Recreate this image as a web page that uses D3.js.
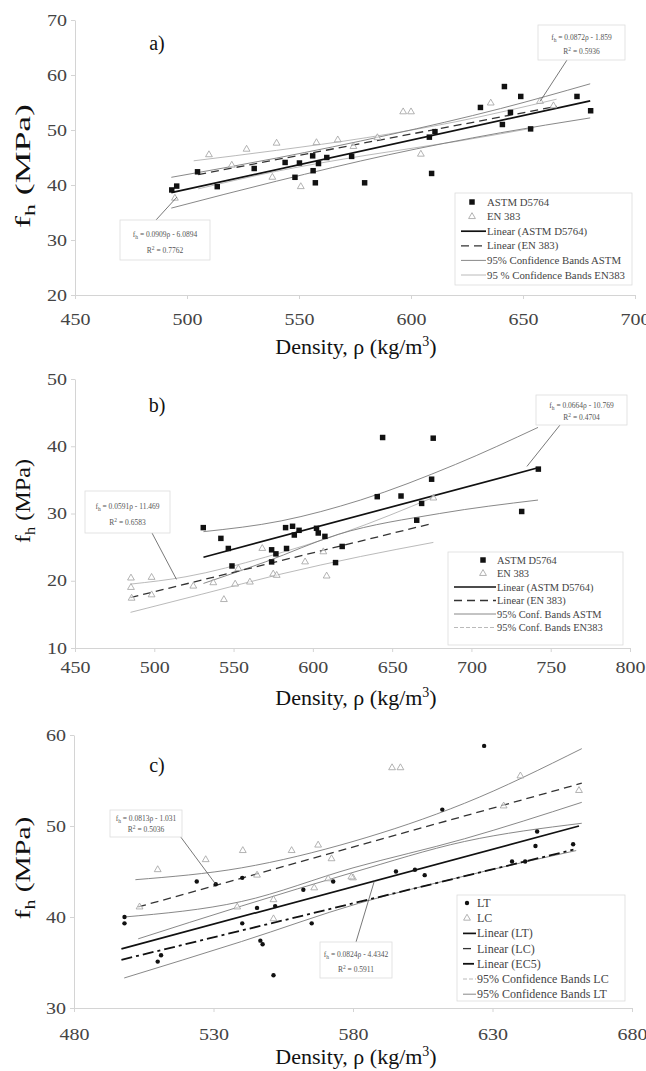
<!DOCTYPE html>
<html>
<head>
<meta charset="utf-8">
<script src="https://cdn.jsdelivr.net/npm/d3@7"></script>
<style>
  body { margin: 0; background: #fff; }
  svg text { font-family: "Liberation Serif", "Times New Roman", "DejaVu Serif", serif !important; }
</style>
</head>
<body>
<div id="vis"></div>
<script>
// ---------- panel a) data ----------
const aXTicks = [450, 500, 550, 600, 650, 700];
const aYTicks = [20, 30, 40, 50, 60, 70];
const aAstm = [[493.2,39.1],[495.4,39.8],[504.7,42.4],[513.5,39.7],[530,43.0],[543.8,44.1],[550.2,44.0],[556.1,45.3],[558.7,43.9],[562.4,45.0],[556.3,42.6],[548.2,41.4],[557.3,40.4],[579.3,40.4],[573.5,45.2],[641.7,57.9],[649,56.1],[631,54.1],[644.4,53.2],[640.8,51.0],[653.4,50.2],[674.1,56.1],[680.2,53.5],[610.7,49.7],[608.2,48.7],[609.2,42.1]];
const aEn = [[494.6,37.6],[509.8,45.5],[526.6,46.5],[540,47.6],[557.8,47.7],[567.3,48.2],[538.1,41.4],[550.8,39.7],[574.3,47.0],[596.5,53.3],[600,53.3],[604.4,45.6],[635.6,54.9],[657.6,55.2],[663.6,54.4],[520,43.6],[585,48.6]];
const aFitAstm = [[493,38.6],[680,55.3]];
const aFitEn = [[505,41.9],[665,54.3]];
const aBandAstmUp = [[493,41.4],[540,44.9],[590,49.1],[640,53.9],[680,58.4]];
const aBandAstmLo = [[493,35.8],[540,40.7],[590,45.5],[640,49.5],[680,52.2]];
const aBandEnUp = [[503,44.4],[540,46.3],[580,48.6],[620,51.5],[665,55.6]];
const aBandEnLo = [[505,39.3],[540,42.5],[580,45.4],[620,47.9],[655,50.4]];
const aLegend = ["ASTM D5764", "EN 383", "Linear (ASTM D5764)", "Linear (EN 383)", "95% Confidence Bands ASTM", "95 % Confidence Bands EN383"];
const aNoteTop = ["0.0872ρ - 1.859", "0.5936"];
const aNoteLow = ["0.0909ρ - 6.0894", "0.7762"];

// ---------- panel b) data ----------
const bXTicks = [450, 500, 550, 600, 650, 700, 750, 800];
const bYTicks = [10, 20, 30, 40, 50];
const bAstm = [[530.9,27.9],[542,26.3],[546.7,24.8],[549,22.2],[574,24.6],[576.7,24.0],[574,22.8],[583.4,24.8],[582.8,27.9],[587.2,28.1],[591.3,27.5],[588.3,26.8],[602.3,27.8],[603.4,27.1],[607.6,26.6],[618.5,25.1],[614.3,22.7],[644,41.3],[675.9,41.2],[742.2,36.6],[674.9,35.1],[640.6,32.5],[655.6,32.6],[668.6,31.5],[665.5,29.0],[731.7,30.3]];
const bEn = [[485.3,20.4],[498.3,20.5],[485.3,19.0],[485.7,17.4],[498.3,17.9],[524.6,19.2],[537.2,19.7],[543.9,17.2],[551,19.5],[560.3,19.8],[568.1,24.8],[575,21.0],[577.2,20.8],[595.1,22.8],[608.7,20.7],[606.6,24.3],[553,21.8],[676,32.3]];
const bFitAstm = [[531,23.5],[742,36.8]];
const bFitEn = [[485,17.5],[675,28.5]];
const bBandAstmUp = [[531,27.3],[580,28.9],[630,32.0],[690,37.3],[742,42.8]];
const bBandAstmLo = [[531,19.6],[570,22.8],[616,26.9],[680,30.0],[742,32.0]];
const bBandEnUp = [[485,19.5],[520,20.6],[570,23.5],[620,27.2],[676,32.4]];
const bBandEnLo = [[485,15.3],[530,18.0],[580,21.0],[630,23.6],[676,25.7]];
const bLegend = ["ASTM D5764", "EN 383", "Linear (ASTM D5764)", "Linear (EN 383)", "95% Conf. Bands ASTM", "95% Conf. Bands EN383"];
const bNoteTop = ["0.0664ρ - 10.769", "0.4704"];
const bNoteLow = ["0.0591ρ - 11.469", "0.6583"];

// ---------- panel c) data ----------
const cXTicks = [480, 530, 580, 630, 680];
const cYTicks = [30, 40, 50, 60];
const cLt = [[498.1,40.0],[498.1,39.3],[510,35.1],[511.2,35.8],[524,43.9],[530.8,43.6],[540.3,44.3],[540.3,39.3],[545.6,41.0],[546.8,37.4],[547.6,37.0],[552.1,41.2],[551.5,33.6],[562.2,43.0],[565.2,39.3],[572.9,43.9],[595.4,45.0],[602.2,45.2],[605.7,44.6],[612,51.8],[627,58.8],[637,46.1],[641.7,46.1],[645.4,47.8],[646,49.4],[658.9,48.0]];
const cLc = [[503.5,41.1],[510,45.2],[527.2,46.3],[540.5,47.3],[538.5,41.1],[551.5,41.9],[558,47.3],[545.6,44.6],[566.1,43.2],[571.1,44.2],[572.3,46.4],[580,44.3],[567.5,47.9],[594,56.4],[597,56.4],[640,55.5],[634,52.2],[661,53.9],[579.4,44.4],[551.5,39.8]];
const cFitLt = [[497,36.5],[661,50.0]];
const cFitLc = [[503,41.1],[662,54.7]];
const cFitEc5 = [[497,35.3],[659,47.4]];
const cBandLcUp = [[502,44.1],[540,45.4],[580,48.3],[620,52.5],[662,58.5]];
const cBandLcLo = [[503,37.6],[540,41.2],[580,44.9],[620,48.3],[662,50.3]];
const cBandLtUp = [[498,40.0],[540,41.7],[580,45.4],[620,48.6],[662,52.6]];
const cBandLtLo = [[498,33.3],[540,37.3],[582,41.5],[620,44.5],[660,47.3]];
const cLegend = ["LT", "LC", "Linear (LT)", "Linear (LC)", "Linear (EC5)", "95% Confidence Bands LC", "95% Confidence Bands LT"];
const cNoteTop = ["0.0813ρ - 1.031", "0.5036"];
const cNoteLow = ["0.0824ρ - 4.4342", "0.5911"];

// line styles
const FIT = { stroke: "#111", width: 1.7, dash: null };
const FIT_DASH = { stroke: "#333", width: 1.3, dash: "8,5" };
const FIT_EC5 = { stroke: "#111", width: 1.8, dash: "11,4,3,4" };
const BAND = { stroke: "#7a7a7a", width: 0.9, dash: null };
const BAND_LIGHT = { stroke: "#a8a8a8", width: 0.8, dash: null };
const BAND_LIGHT_DASH = { stroke: "#a8a8a8", width: 0.8, dash: "4,2" };
const SERIF = "'Liberation Serif', 'Times New Roman', serif";

const svg = d3.select("#vis").append("svg")
  .attr("width", 646).attr("height", 1071)
  .attr("font-family", SERIF);

function drawPanel(p) {
  const g = svg.append("g");
  const x = d3.scaleLinear().domain(d3.extent(p.xTicks)).range([p.left, p.right]);
  const y = d3.scaleLinear().domain(d3.extent(p.yTicks)).range([p.bottom, p.top]);

  // axes
  const xa = g.append("g").attr("transform", `translate(0,${p.bottom})`)
    .call(d3.axisBottom(x).tickValues(p.xTicks).tickSize(4).tickPadding(p.xPad).tickSizeOuter(0));
  const ya = g.append("g").attr("transform", `translate(${p.left},0)`)
    .call(d3.axisLeft(y).tickValues(p.yTicks).tickSize(4).tickPadding(4).tickSizeOuter(0));
  [xa, ya].forEach(a => {
    a.attr("font-family", SERIF);
    a.select(".domain").attr("stroke", "#d4d4d4");
    a.selectAll(".tick line").attr("stroke", "#d4d4d4");
    a.selectAll("text").attr("fill", "#444").attr("font-size", 16)
      .attr("textLength", d => String(d).length * 10)
      .attr("lengthAdjust", "spacingAndGlyphs");
  });

  // titles
  g.append("text").attr("x", 356).attr("y", p.xTitleY).attr("text-anchor", "middle")
    .attr("font-size", 22).attr("fill", "#111")
    .call(t => {
      t.append("tspan").text("Density, ρ (kg/m");
      t.append("tspan").text("3").attr("dy", -8).attr("font-size", 14);
      t.append("tspan").text(")").attr("dy", 8);
    });
  g.append("text").attr("transform", `translate(30,${p.yTitleMid}) rotate(-90)`)
    .attr("x", -p.yTitleLen / 2).attr("textLength", p.yTitleLen).attr("lengthAdjust", "spacingAndGlyphs")
    .attr("font-size", 21).attr("fill", "#111")
    .call(t => {
      t.append("tspan").text("f");
      t.append("tspan").text("h").attr("dy", 5).attr("font-size", 14);
      t.append("tspan").text(" (MPa)").attr("dy", -5);
    });
  g.append("text").attr("x", 157).attr("y", p.tagY).attr("text-anchor", "middle")
    .attr("font-size", 20).attr("fill", "#111").text(p.tag);

  const line = d3.line().x(d => x(d[0])).y(d => y(d[1]));
  const curve = d3.line().x(d => x(d[0])).y(d => y(d[1])).curve(d3.curveMonotoneX);

  p.lines.forEach(l => {
    g.append("path").datum(l.data)
      .attr("d", l.data.length > 2 ? curve : line)
      .attr("fill", "none").attr("stroke", l.style.stroke)
      .attr("stroke-width", l.style.width)
      .attr("stroke-dasharray", l.style.dash);
  });

  // points
  const tri = d3.symbol().type(d3.symbolTriangle).size(20);
  const sq = d3.symbol().type(d3.symbolSquare).size(30);
  g.selectAll(".tri").data(p.open).join("path")
    .attr("d", tri).attr("transform", d => `translate(${x(d[0])},${y(d[1])})`)
    .attr("fill", "#fff").attr("fill-opacity", 0.6).attr("stroke", "#a0a0a0").attr("stroke-width", 0.8);
  if (p.dots) {
    g.selectAll(".dot").data(p.filled).join("circle")
      .attr("cx", d => x(d[0])).attr("cy", d => y(d[1])).attr("r", 2.2).attr("fill", "#111");
  } else {
    g.selectAll(".sq").data(p.filled).join("path")
      .attr("d", sq).attr("transform", d => `translate(${x(d[0])},${y(d[1])})`)
      .attr("fill", "#111");
  }

  // regression notes
  p.notes.forEach(n => {
    const [tx, ty] = [x(n.target[0]), y(n.target[1])];
    g.append("line").attr("x1", n.from[0]).attr("y1", n.from[1]).attr("x2", tx).attr("y2", ty)
      .attr("stroke", "#555").attr("stroke-width", 0.8);
    g.append("rect").attr("x", n.box[0]).attr("y", n.box[1]).attr("width", n.box[2]).attr("height", n.box[3])
      .attr("fill", "#fff").attr("stroke", "#ddd").attr("stroke-width", 0.8);
    const cx = n.box[0] + n.box[2] / 2;
    g.append("text").attr("x", cx).attr("y", n.box[1] + n.box[3] * 0.42).attr("text-anchor", "middle")
      .attr("font-size", 7.5).attr("fill", "#555")
      .call(t => {
        t.append("tspan").text("f");
        t.append("tspan").text("h").attr("dy", 2).attr("font-size", 5.5);
        t.append("tspan").text(" = " + n.text[0]).attr("dy", -2);
      });
    g.append("text").attr("x", cx).attr("y", n.box[1] + n.box[3] * 0.82).attr("text-anchor", "middle")
      .attr("font-size", 7.5).attr("fill", "#555")
      .call(t => {
        t.append("tspan").text("R");
        t.append("tspan").text("2").attr("dy", -3).attr("font-size", 5.5);
        t.append("tspan").text(" = " + n.text[1]).attr("dy", 3);
      });
  });

  // legend
  const L = p.legend;
  g.append("rect").attr("x", L.x).attr("y", L.y).attr("width", L.w).attr("height", L.h)
    .attr("fill", "#fff").attr("stroke", "#dcdcdc").attr("stroke-width", 0.8);
  L.items.forEach((it, i) => {
    const yy = L.y + L.first + i * L.step;
    const sx = L.x + L.sym;
    if (it.kind === "sq") {
      g.append("path").attr("d", sq).attr("transform", `translate(${sx},${yy})`).attr("fill", "#111");
    } else if (it.kind === "dot") {
      g.append("circle").attr("cx", sx).attr("cy", yy).attr("r", 2.2).attr("fill", "#111");
    } else if (it.kind === "tri") {
      g.append("path").attr("d", tri).attr("transform", `translate(${sx},${yy})`)
        .attr("fill", "#fff").attr("stroke", "#a0a0a0").attr("stroke-width", 0.8);
    } else {
      g.append("line").attr("x1", L.x + 6).attr("x2", L.x + L.textX - 1).attr("y1", yy).attr("y2", yy)
        .attr("stroke", it.style.stroke).attr("stroke-width", it.style.width)
        .attr("stroke-dasharray", it.style.dash);
    }
    g.append("text").attr("x", L.x + L.textX).attr("y", yy + L.font * 0.34)
      .attr("font-size", L.font).attr("fill", "#444").text(it.label);
  });
}

// panel a)
drawPanel({
  tag: "a)", tagY: 50,
  xTicks: aXTicks, yTicks: aYTicks,
  left: 75, right: 635, top: 20, bottom: 295, xPad: 15,
  xTitleY: 354, yTitleMid: 166, yTitleLen: 124,
  filled: aAstm, open: aEn,
  lines: [
    { data: aBandEnUp, style: BAND_LIGHT }, { data: aBandEnLo, style: BAND_LIGHT },
    { data: aBandAstmUp, style: BAND }, { data: aBandAstmLo, style: BAND },
    { data: aFitEn, style: FIT_DASH }, { data: aFitAstm, style: FIT }
  ],
  notes: [
    { text: aNoteTop, box: [538, 25, 87, 35], from: [567, 60], target: [657.6, 55.2] },
    { text: aNoteLow, box: [120, 220, 90, 40], from: [156, 220], target: [495.5, 37.8] }
  ],
  legend: { x: 455, y: 193, w: 177, h: 92, first: 9, step: 14.6, sym: 17, textX: 32, font: 10.8,
    items: [
      { kind: "sq", label: aLegend[0] }, { kind: "tri", label: aLegend[1] },
      { kind: "line", style: FIT, label: aLegend[2] }, { kind: "line", style: FIT_DASH, label: aLegend[3] },
      { kind: "line", style: BAND, label: aLegend[4] }, { kind: "line", style: BAND_LIGHT, label: aLegend[5] }
    ] }
});

// panel b)
drawPanel({
  tag: "b)", tagY: 412,
  xTicks: bXTicks, yTicks: bYTicks,
  left: 75, right: 630, top: 379, bottom: 648, xPad: 10,
  xTitleY: 705, yTitleMid: 501, yTitleLen: 84,
  filled: bAstm, open: bEn,
  lines: [
    { data: bBandEnUp, style: BAND_LIGHT }, { data: bBandEnLo, style: BAND_LIGHT },
    { data: bBandAstmUp, style: BAND }, { data: bBandAstmLo, style: BAND },
    { data: bFitEn, style: FIT_DASH }, { data: bFitAstm, style: FIT }
  ],
  notes: [
    { text: bNoteTop, box: [536, 395, 91, 30], from: [560, 425], target: [735, 37] },
    { text: bNoteLow, box: [85, 491, 85, 42], from: [152, 533], target: [514, 20.2] }
  ],
  legend: { x: 448, y: 552, w: 175, h: 93, first: 8, step: 13.5, sym: 35, textX: 49, font: 10.4,
    items: [
      { kind: "sq", label: bLegend[0] }, { kind: "tri", label: bLegend[1] },
      { kind: "line", style: FIT, label: bLegend[2] }, { kind: "line", style: FIT_DASH, label: bLegend[3] },
      { kind: "line", style: BAND, label: bLegend[4] }, { kind: "line", style: BAND_LIGHT_DASH, label: bLegend[5] }
    ] }
});

// panel c)
drawPanel({
  tag: "c)", tagY: 772,
  xTicks: cXTicks, yTicks: cYTicks,
  left: 74, right: 632, top: 735, bottom: 1008, xPad: 17,
  xTitleY: 1064, yTitleMid: 868, yTitleLen: 103,
  filled: cLt, open: cLc, dots: true,
  lines: [
    { data: cBandLcUp, style: BAND }, { data: cBandLcLo, style: BAND },
    { data: cBandLtUp, style: BAND }, { data: cBandLtLo, style: BAND },
    { data: cFitEc5, style: FIT_EC5 }, { data: cFitLc, style: FIT_DASH }, { data: cFitLt, style: FIT }
  ],
  notes: [
    { text: cNoteTop, box: [110, 810, 72, 27], from: [180, 836], target: [530.8, 43.6] },
    { text: cNoteLow, box: [320, 942, 72, 36], from: [356, 942], target: [587.7, 44.0] }
  ],
  legend: { x: 457, y: 895, w: 168, h: 106, first: 8, step: 15.2, sym: 10, textX: 20, font: 12,
    items: [
      { kind: "dot", label: cLegend[0] }, { kind: "tri", label: cLegend[1] },
      { kind: "line", style: FIT, label: cLegend[2] }, { kind: "line", style: FIT_DASH, label: cLegend[3] },
      { kind: "line", style: FIT_EC5, label: cLegend[4] }, { kind: "line", style: BAND_LIGHT_DASH, label: cLegend[5] },
      { kind: "line", style: BAND, label: cLegend[6] }
    ] }
});
</script>
</body>
</html>
